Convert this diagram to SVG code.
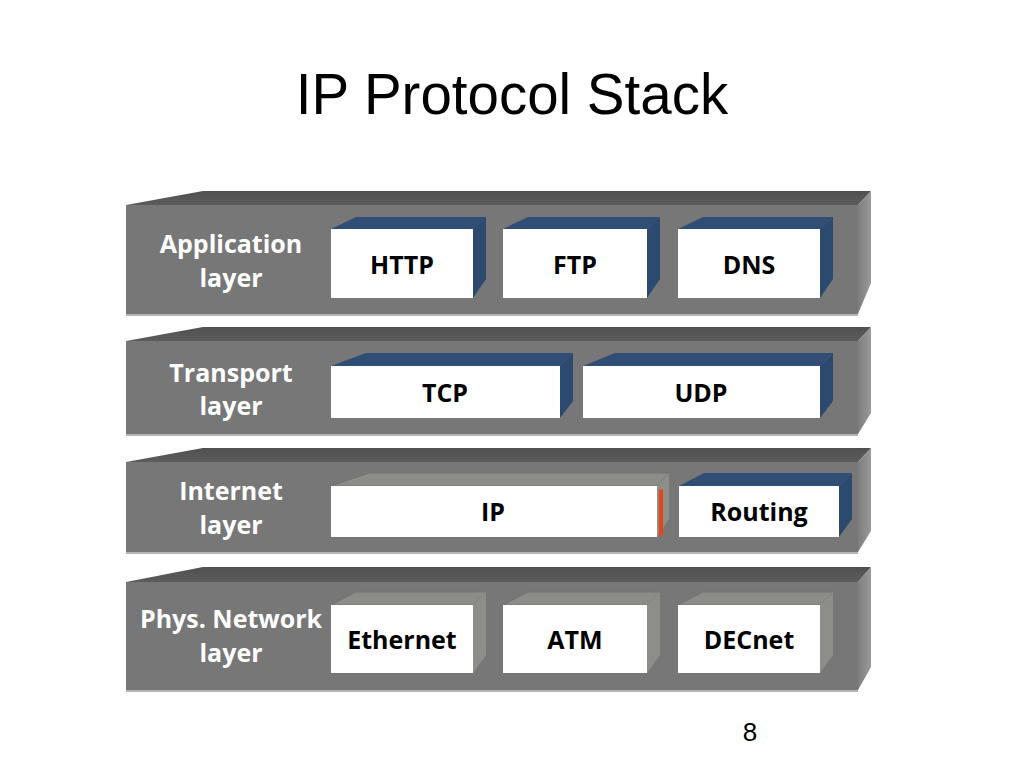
<svg xmlns="http://www.w3.org/2000/svg" width="1024" height="768" viewBox="0 0 1024 768">
<defs>
<linearGradient id="topg" x1="0" y1="0" x2="0" y2="1"><stop offset="0" stop-color="#505050"/><stop offset="1" stop-color="#5c5c5c"/></linearGradient>
<linearGradient id="sideg" x1="0" y1="0" x2="1" y2="0"><stop offset="0" stop-color="#7e7e7e"/><stop offset="1" stop-color="#9a9a9a"/></linearGradient>
<style>
.front{fill:#777777}
.ltop{fill:url(#topg)}
.lside{fill:url(#sideg)}
.edge{stroke:#b4b4b4;stroke-width:2}
.wb{fill:#ffffff}
.bt{fill:#2f4d75}
.bs{fill:#2c4a70}
.gt{fill:#8c8c88;stroke:#6e6e6a;stroke-width:0.8}
.gs{fill:#8e8e89}
.lbl{font-family:"Open Sans",Lato,sans-serif;font-weight:bold;font-size:25px;fill:#ffffff;text-anchor:middle}
.bx{font-family:"Open Sans",Lato,sans-serif;font-weight:bold;font-size:25px;fill:#000000;text-anchor:middle}
</style>
</defs>
<rect width="1024" height="768" fill="#ffffff"/>
<text x="512" y="114" font-family="'Liberation Sans',Arial,sans-serif" font-size="56.5" text-anchor="middle" fill="#000">IP Protocol Stack</text>

<g id="layer-application">
<polygon class="ltop" points="126,205 203,191 871,191 858,205"/>
<polygon class="lside" points="858,205 871,191 871,283 858,314"/>
<rect class="front" x="126" y="205" width="732" height="109"/>
<line class="edge" x1="126" y1="315" x2="858" y2="315"/>
<text class="lbl" x="231" y="253">Application</text>
<text class="lbl" x="231" y="287">layer</text>
</g>
<g id="node-http">
<polygon class="bt" points="331,229 356,217 486,217 473,229"/>
<polygon class="bs" points="473,229 486,217 486,279 473,298"/>
<rect class="wb" x="331" y="229" width="142" height="69"/>
<text class="bx" x="402" y="274">HTTP</text>
</g>
<g id="node-ftp">
<polygon class="bt" points="503,229 528,217 660,217 647,229"/>
<polygon class="bs" points="647,229 660,217 660,279 647,298"/>
<rect class="wb" x="503" y="229" width="144" height="69"/>
<text class="bx" x="575" y="274">FTP</text>
</g>
<g id="node-dns">
<polygon class="bt" points="678,229 703,217 833,217 820,229"/>
<polygon class="bs" points="820,229 833,217 833,279 820,298"/>
<rect class="wb" x="678" y="229" width="142" height="69"/>
<text class="bx" x="749" y="274">DNS</text>
</g>

<g id="layer-transport">
<polygon class="ltop" points="126,341 203,327 871,327 858,341"/>
<polygon class="lside" points="858,341 871,327 871,413 858,434"/>
<rect class="front" x="126" y="341" width="732" height="93"/>
<line class="edge" x1="126" y1="435" x2="858" y2="435"/>
<text class="lbl" x="231" y="382">Transport</text>
<text class="lbl" x="231" y="415">layer</text>
</g>
<g id="node-tcp">
<polygon class="bt" points="331,366 366,353 573,353 560,366"/>
<polygon class="bs" points="560,366 573,353 573,401 560,418"/>
<rect class="wb" x="331" y="366" width="229" height="52"/>
<text class="bx" x="445" y="402">TCP</text>
</g>
<g id="node-udp">
<polygon class="bt" points="583,366 615,353 833,353 820,366"/>
<polygon class="bs" points="820,366 833,353 833,401 820,418"/>
<rect class="wb" x="583" y="366" width="237" height="52"/>
<text class="bx" x="701" y="402">UDP</text>
</g>

<g id="layer-internet">
<polygon class="ltop" points="126,462 203,448 871,448 858,462"/>
<polygon class="lside" points="858,462 871,448 871,531 858,552"/>
<rect class="front" x="126" y="462" width="732" height="90"/>
<line class="edge" x1="126" y1="553" x2="858" y2="553"/>
<text class="lbl" x="231" y="500">Internet</text>
<text class="lbl" x="231" y="534">layer</text>
</g>
<g id="node-ip">
<polygon class="gt" points="331,486 369,473 669,473 657,486"/>
<polygon class="gs" points="657,486 669,473 669,519 657,537"/>
<rect class="wb" x="331" y="486" width="326" height="51"/>
<line x1="661" y1="491" x2="661" y2="534" stroke="#e8441a" stroke-width="4" stroke-linecap="round"/>
<text class="bx" x="493" y="521">IP</text>
</g>
<g id="node-routing">
<polygon class="bt" points="679,486 704,473 852,473 839,486"/>
<polygon class="bs" points="839,486 852,473 852,519 839,537"/>
<rect class="wb" x="679" y="486" width="160" height="51"/>
<text class="bx" x="759" y="521">Routing</text>
</g>

<g id="layer-physical">
<polygon class="ltop" points="126,582 203,567 871,567 858,582"/>
<polygon class="lside" points="858,582 871,567 871,667 858,690"/>
<rect class="front" x="126" y="582" width="732" height="108"/>
<line class="edge" x1="126" y1="691" x2="858" y2="691"/>
<text class="lbl" x="231" y="628">Phys. Network</text>
<text class="lbl" x="231" y="662">layer</text>
</g>
<g id="node-ethernet">
<polygon class="gt" points="331,605 356,592 486,592 473,605"/>
<polygon class="gs" points="473,605 486,592 486,655 473,673"/>
<rect class="wb" x="331" y="605" width="142" height="68"/>
<text class="bx" x="402" y="649">Ethernet</text>
</g>
<g id="node-atm">
<polygon class="gt" points="503,605 528,592 660,592 647,605"/>
<polygon class="gs" points="647,605 660,592 660,655 647,673"/>
<rect class="wb" x="503" y="605" width="144" height="68"/>
<text class="bx" x="575" y="649">ATM</text>
</g>
<g id="node-decnet">
<polygon class="gt" points="678,605 703,592 833,592 820,605"/>
<polygon class="gs" points="820,605 833,592 833,655 820,673"/>
<rect class="wb" x="678" y="605" width="142" height="68"/>
<text class="bx" x="749" y="649">DECnet</text>
</g>
<g id="connectors"/>
<text x="750" y="741" font-family="'Liberation Sans',Arial,sans-serif" font-size="26" text-anchor="middle" fill="#000">8</text>
</svg>
